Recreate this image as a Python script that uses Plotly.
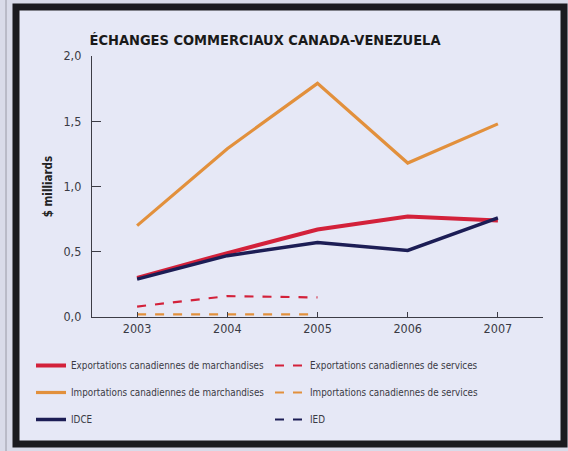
import plotly.graph_objects as go

# Trade data, billions of dollars
years = [2003, 2004, 2005, 2006, 2007]
exp_merch = [0.30, 0.49, 0.67, 0.77, 0.74]
imp_merch = [0.70, 1.29, 1.79, 1.18, 1.48]
idce = [0.29, 0.47, 0.57, 0.51, 0.76]
svc_years = [2003, 2004, 2005]
exp_serv = [0.08, 0.16, 0.15]
imp_serv = [0.02, 0.02, 0.02]
ied = [None, None, None]

y_ticks = [0.0, 0.5, 1.0, 1.5, 2.0]
title_text = "ÉCHANGES COMMERCIAUX CANADA-VENEZUELA"
y_title = "$ milliards"

RED = "#d3213a"
ORANGE = "#e2903c"
NAVY = "#1c1d55"
PANEL = "#e6e8f6"
OUTER = "#d9dbe9"
TEXT = "#3a3a44"
FONT = "DejaVu Sans Condensed, Liberation Sans Narrow, sans-serif"

W, H = 568, 451
L, R, T, B = 92, 25, 56, 134
pw, ph = W - L - R, H - T - B


def px(x):
    return (x - L) / pw


def py(y):
    return (H - B - y) / ph


fig = go.Figure()

series = [
    ("Exportations canadiennes de marchandises", years, exp_merch, RED, "solid", 4, "legend"),
    ("Importations canadiennes de marchandises", years, imp_merch, ORANGE, "solid", 3.2, "legend"),
    ("IDCE", years, idce, NAVY, "solid", 3.5, "legend"),
    ("Exportations canadiennes de services", svc_years, exp_serv, RED, "dash", 2.2, "legend2"),
    ("Importations canadiennes de services", svc_years, imp_serv, ORANGE, "dash", 2.2, "legend2"),
    ("IED", svc_years, ied, NAVY, "dash", 2.2, "legend2"),
]

for i, (name, xs, ys, color, dash, lw, leg) in enumerate(series):
    fig.add_trace(go.Scatter(
        x=xs, y=ys, name=name, mode="lines",
        line=dict(color=color, width=lw, dash=dash),
        legend=leg, legendgroup=f"g{i}",
    ))

legend_common = dict(
    orientation="v", bgcolor="rgba(0,0,0,0)",
    font=dict(family=FONT, size=9.8, color=TEXT),
    tracegroupgap=8, itemwidth=30,
    xanchor="left", yanchor="top",
)

fig.update_layout(
    width=W, height=H,
    margin=dict(l=L, r=R, t=T, b=B, autoexpand=False),
    paper_bgcolor=OUTER,
    plot_bgcolor="rgba(0,0,0,0)",
    separators=", ",
    font=dict(family=FONT, color=TEXT, size=12),
    title=dict(
        text=title_text, x=265 / W, xanchor="center",
        y=1 - 40 / H, yanchor="middle",
        font=dict(family=FONT, size=14.5, color="#1a1a1a", weight="bold"),
    ),
    xaxis=dict(
        range=[2002.5, 2007.5], tickvals=years, ticktext=[str(y) for y in years],
        showgrid=False, zeroline=False, showline=True, linecolor="#3c3c46", linewidth=1.3,
        ticks="inside", ticklen=5, tickcolor="#3c3c46",
        tickfont=dict(family=FONT, size=12.5, color=TEXT),
    ),
    yaxis=dict(
        range=[0, 2.0], tickvals=y_ticks, tickformat=".1f",
        showgrid=False, zeroline=False, showline=True, linecolor="#3c3c46", linewidth=1.3,
        ticks="inside", ticklen=9, tickcolor="#3c3c46",
        tickfont=dict(family=FONT, size=12.5, color=TEXT),
        ticklabelstandoff=7,
        title=dict(text=y_title, standoff=8,
                   font=dict(family=FONT, size=11.5, color="#222", weight="bold")),
    ),
    legend=dict(x=px(31), y=py(351), **legend_common),
    legend2=dict(x=px(270), y=py(351), **legend_common),
    showlegend=True,
)

# panel background and frame
fig.add_shape(type="rect", xref="paper", yref="paper",
              x0=px(16), x1=px(564), y0=py(444), y1=py(7),
              fillcolor=PANEL, line=dict(color="#1b1b1f", width=7), layer="below")
fig.add_shape(type="line", xref="paper", yref="paper",
              x0=px(6), x1=px(6), y0=py(451), y1=py(0),
              line=dict(color="#9a9aa6", width=1), layer="below")

fig.write_html("out.html")
